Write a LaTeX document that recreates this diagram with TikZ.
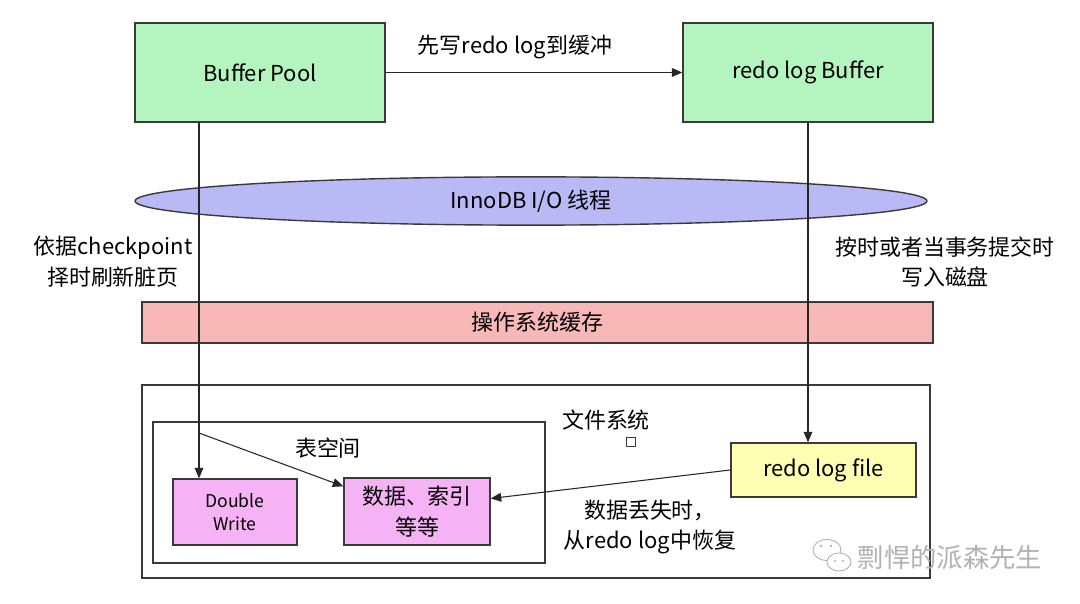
\documentclass[tikz,border=0pt]{standalone}
\usepackage{fontspec}
\setmainfont{Noto Sans CJK SC}
\usepackage{xcolor}
\definecolor{poolGreen}{HTML}{B4F5BF}
\definecolor{ioBlue}{HTML}{B9B9F5}
\definecolor{cacheRed}{HTML}{F8B8B8}
\definecolor{fileYellow}{HTML}{FFFFB4}
\definecolor{spacePink}{HTML}{F5B3F5}
\definecolor{edgeGray}{HTML}{3A3A3A}
\usetikzlibrary{arrows.meta,positioning,calc,shapes.geometric}

\begin{document}
\begin{tikzpicture}[x=0.02cm,y=-0.02cm,font=\fontsize{12.5}{17.5}\selectfont,>={Triangle[length=6pt,width=5pt]},
  blk/.style={draw=edgeGray,line width=0.8pt},
  greenbox/.style={blk,fill=poolGreen,minimum width=5cm,minimum height=1.98cm},
  pinkbox/.style={blk,fill=spacePink,align=center},
  link/.style={->,line width=0.6pt,draw=black!85}]
  \useasboundingbox[fill=white] (0,0) rectangle (1080,604);
  % buffers in memory
  \node[greenbox] (pool) at (260,72.5) {Buffer Pool};
  \node[greenbox] (redobuf) at (808,72.5) {redo log Buffer};
  \node (writelabel) at (515,47) {先写redo log到缓冲};
  \node[blk,ellipse,fill=ioBlue,minimum width=15.84cm,minimum height=0.84cm] (io) at (531,201) {InnoDB I/O 线程};
  \node[blk,fill=cacheRed,minimum width=15.82cm,minimum height=0.82cm] (oscache) at (537.5,322.5) {操作系统缓存};
  \node[align=center] (flushlabel) at (113,262) {依据checkpoint\\择时刷新脏页};
  \node[align=center] (commitlabel) at (945,262) {按时或者当事务提交时\\写入磁盘};
  % file system
  \node[blk,minimum width=15.76cm,minimum height=3.86cm] (fs) at (536,481.5) {};
  \node (fslabel) at (606,420) {文件系统};
  \node[draw=edgeGray,line width=0.6pt,inner sep=0pt,minimum size=0.17cm] (sq) at (631,442) {};
  \node[blk,minimum width=7.84cm,minimum height=2.82cm] (space) at (349,492.5) {};
  \node (spacelabel) at (328,448) {表空间};
  \node[pinkbox,minimum width=2.48cm,minimum height=1.32cm,font=\fontsize{10}{13}\selectfont] (dw) at (235,512) {Double\\Write};
  \node[pinkbox,minimum width=2.92cm,minimum height=1.34cm] (data) at (417,511.5) {数据、索引\\等等};
  \node[blk,fill=fileYellow,minimum width=3.7cm,minimum height=1.08cm] (redofile) at (823.5,470) {redo log file};
  \node[align=center] (recoverlabel) at (650,527) {数据丢失时，\\从redo log中恢复};
  % connectors
  \coordinate (lx) at (199,0);
  \coordinate (split) at (199,433);
  \draw[link] (pool) -- (redobuf);
  \draw[link] (pool.south -| lx) -- (dw.north -| lx);
  \draw[link] (redobuf.south) -- (redofile.north -| redobuf.south);
  \draw[link] (split) -- ($(data.north west)+(0,9)$);
  \draw[link] (redofile.west) -- ($(data.east)+(0,-13)$);
  % watermark
  \draw[black!30,fill=white,line width=0.5pt] (827,550) ellipse [x radius=0.28cm,y radius=0.21cm];
  \draw[black!30,fill=white,line width=0.5pt] (839,562) ellipse [x radius=0.24cm,y radius=0.18cm];
  \fill[black!30] (821,546) circle (0.8pt) (831,546) circle (0.8pt) (835,561) circle (0.7pt) (843,561) circle (0.7pt);
  \node[text=black!30,font=\fontsize{15}{18}\selectfont] (mark) at (950,558) {剽悍的派森先生};
\end{tikzpicture}
\end{document}
